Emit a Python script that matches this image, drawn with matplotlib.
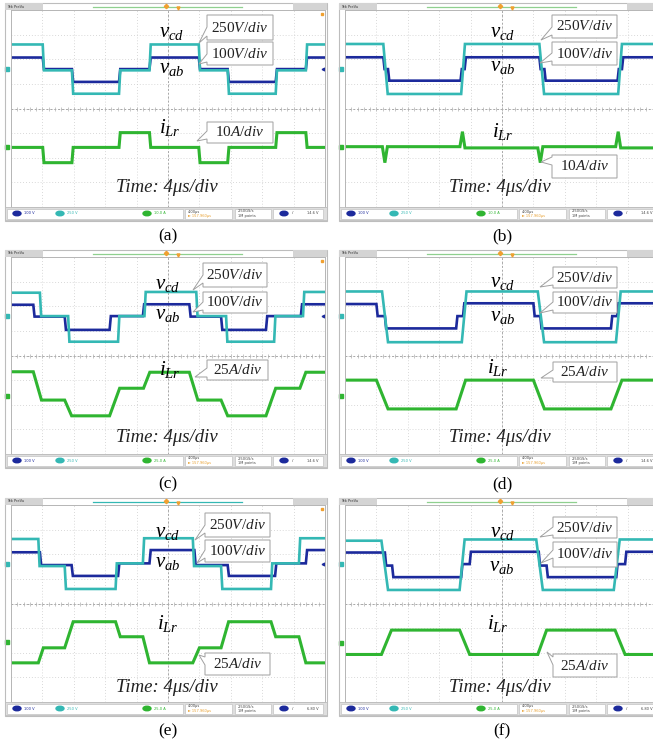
import matplotlib
matplotlib.use("Agg")
import matplotlib.pyplot as plt
import numpy as np
from matplotlib.patches import Rectangle, Polygon, Ellipse

plt.rcParams["mathtext.fontset"] = "custom"
plt.rcParams["mathtext.rm"] = "Liberation Serif"
plt.rcParams["mathtext.it"] = "Liberation Serif:italic"
plt.rcParams["font.family"] = ["Liberation Serif", "DejaVu Sans"]

W, H = 653, 745
GW, GH = 314, 197          # scope grid size in pixels (10 x 8 div)

# ---- waveform data (time in div, level in div) ----
# (a)
A_V_EDGES = [1.01, 1.94, 3.44, 4.41, 5.98, 6.90, 8.43, 9.39]
A_CD = [2.6, 1.55, 0.6, 1.55, 2.6, 1.55, 0.6, 1.55, 2.6]
A_AB = [2.07, 1.6, 1.08, 1.6, 2.07, 1.6, 1.08, 1.6, 2.07]
A_LR = [-1.58, -2.2, -1.58, -0.98, -1.58, -2.2, -1.58, -0.98, -1.58]
# (b)
B_CD_EDGES = [1.22, 3.70, 6.19, 8.70]
B_CD_RISE = [0.14, 0.12, 0.15, 0.12]
B_CD = [2.62, 0.59, 2.62, 0.59, 2.62]
B_AB_EDGES = [1.22, 1.37, 3.68, 3.81, 6.19, 6.35, 8.68, 8.82]
B_AB = [2.08, 1.6, 1.13, 1.6, 2.08, 1.6, 1.13, 1.6, 2.08]
B_LR_EDGES = [1.19, 1.27, 3.66, 3.74, 6.14, 6.22, 8.62, 8.70]
B_LR = [-1.55, -2.2, -1.55, -0.94, -1.6, -2.2, -1.55, -0.94, -1.6]
# (c)
C_CD_EDGES = [0.92, 1.82, 3.41, 4.25, 5.90, 6.85, 8.38, 9.30]
C_CD = [2.55, 1.6, 0.56, 1.6, 2.58, 1.6, 0.56, 1.6, 2.58]
C_AB_EDGES = [0.71, 1.71, 3.14, 4.20, 5.68, 6.69, 8.12, 9.23]
C_AB = [2.06, 1.58, 1.04, 1.6, 2.08, 1.58, 1.04, 1.6, 2.08]
C_LR_EDGES = [0.71, 1.71, 3.14, 4.22, 5.68, 6.69, 8.12, 9.20]
C_LR_RISE = [0.26, 0.22, 0.32, 0.2, 0.27, 0.21, 0.31, 0.19]
C_LR = [-0.66, -1.81, -2.45, -1.33, -0.68, -1.81, -2.45, -1.33, -0.68]
# (d)
D_CD_EDGES = [1.18, 3.72, 6.14, 8.63]
D_CD_RISE = [0.19, 0.15, 0.2, 0.15]
D_CD = [2.6, 0.54, 2.6, 0.54, 2.6]
D_AB_EDGES = [1.0, 1.27, 3.54, 3.76, 6.0, 6.22, 8.47, 8.67]
D_AB = [2.09, 1.6, 1.1, 1.6, 2.12, 1.6, 1.1, 1.6, 2.12]
D_LR_EDGES = [1.0, 3.54, 6.0, 8.47]
D_LR_RISE = [0.37, 0.3, 0.35, 0.35]
D_LR = [-1.0, -2.17, -1.0, -2.17, -1.0]
# (e)
E_CD_EDGES = [0.87, 1.71, 3.33, 4.2, 5.79, 6.69, 8.28, 9.17]
E_CD = [2.62, 1.52, 0.59, 1.63, 2.65, 1.52, 0.59, 1.63, 2.65]
E_AB_EDGES = [0.92, 1.93, 3.41, 4.41, 5.84, 6.90, 8.41, 9.39]
E_AB = [2.08, 1.56, 1.12, 1.63, 2.17, 1.56, 1.12, 1.63, 2.17]
E_LR_EDGES = [0.87, 1.71, 3.33, 4.20, 5.79, 6.69, 8.28, 9.17]
E_LR_RISE = [0.16, 0.27, 0.15, 0.21, 0.21, 0.24, 0.15, 0.22]
E_LR = [-2.41, -1.8, -0.74, -1.35, -2.41, -1.8, -0.74, -1.35, -2.41]
# (f)
F_CD_EDGES = [1.16, 3.65, 6.09, 8.56]
F_CD_RISE = [0.21, 0.16, 0.21, 0.19]
F_CD = [2.55, 0.55, 2.6, 0.55, 2.6]
F_AB_EDGES = [1.27, 1.50, 3.70, 3.97, 6.17, 6.42, 8.64, 8.92]
F_AB = [2.07, 1.54, 1.07, 1.6, 2.1, 1.54, 1.07, 1.6, 2.1]
F_LR_EDGES = [1.16, 3.65, 6.14, 8.60]
F_LR_RISE = [0.32, 0.32, 0.28, 0.32]
F_LR = [-2.07, -1.08, -2.07, -1.08, -2.07]

CAPTIONS = ["(a)", "(b)", "(c)", "(d)", "(e)", "(f)"]
I_SCALES = ["10A/div", "10A/div", "25A/div", "25A/div", "25A/div", "25A/div"]
I_READOUT = ["10.0 A", "10.0 A", "25.0 A", "25.0 A", "25.0 A", "25.0 A"]
TRIG_READOUT = ["14.6 V", "14.6 V", "14.6 V", "14.6 V", "6.80 V", "6.80 V"]
I_ZERO = [-1.58, -1.55, -1.65, -1.65, -1.57, -1.6]

CYAN = "#34b8b4"
BLUE = "#1c2a9c"
GREEN = "#2fb531"
GRID = "#cccccc"


def steps(edges, levels, rise=0.04):
    rises = rise if isinstance(rise, list) else [rise] * len(edges)
    t, y = [0.0], [levels[0]]
    for e, r, a, b in zip(edges, rises, levels[:-1], levels[1:]):
        t += [e, e + r]
        y += [a, b]
    t.append(10.0)
    y.append(levels[-1])
    return t, y


TRACES = [
    (steps(A_V_EDGES, A_CD), steps(A_V_EDGES, A_AB), steps(A_V_EDGES, A_LR)),
    (steps(B_CD_EDGES, B_CD, B_CD_RISE), steps(B_AB_EDGES, B_AB),
     steps(B_LR_EDGES, B_LR, 0.08)),
    (steps(C_CD_EDGES, C_CD), steps(C_AB_EDGES, C_AB),
     steps(C_LR_EDGES, C_LR, C_LR_RISE)),
    (steps(D_CD_EDGES, D_CD, D_CD_RISE), steps(D_AB_EDGES, D_AB),
     steps(D_LR_EDGES, D_LR, D_LR_RISE)),
    (steps(E_CD_EDGES, E_CD), steps(E_AB_EDGES, E_AB),
     steps(E_LR_EDGES, E_LR, E_LR_RISE)),
    (steps(F_CD_EDGES, F_CD, F_CD_RISE), steps(F_AB_EDGES, F_AB),
     steps(F_LR_EDGES, F_LR, F_LR_RISE)),
]

# ---- layout (pixels) ----
ORIGINS = [(11, 10), (345, 10), (11, 257), (345, 257), (11, 505), (345, 505)]
CAPTION_Y = [236, 236, 484, 484, 731, 731]
LABELS = [  # v_cd, v_ab, i_Lr, time text centres
    [(172, 33), (172, 68), (170, 128), (167, 188)],
    [(503, 32), (503, 67), (503, 132), (500, 188)],
    [(168, 285), (168, 315), (170, 370), (167, 438)],
    [(503, 283), (503, 317), (498, 368), (500, 438)],
    [(168, 533), (168, 563), (168, 623), (167, 687)],
    [(503, 533), (502, 567), (498, 623), (500, 688)],
]
CALLOUTS = [  # box (x0, y0, x1, y1), tail attach (ya, yb), tail tip
    [((207, 15, 273, 40), (27, 36), (199, 43)),
     ((207, 42, 273, 65), (54, 62), (199, 64)),
     ((207, 122, 273, 143), (131, 139), (197, 141))],
    [((552, 15, 617, 38), (27, 35), (541, 40)),
     ((552, 42, 617, 65), (53, 61), (540, 63)),
     ((552, 155, 617, 178), (157, 165), (541, 162))],
    [((203, 263, 267, 287), (275, 283), (193, 290)),
     ((203, 292, 267, 313), (302, 310), (193, 312)),
     ((207, 360, 268, 380), (368, 377), (195, 377))],
    [((553, 267, 617, 288), (277, 285), (540, 287)),
     ((553, 292, 617, 313), (302, 310), (540, 313)),
     ((553, 362, 617, 382), (370, 378), (541, 378))],
    [((205, 513, 270, 537), (525, 533), (195, 540)),
     ((205, 540, 270, 562), (550, 558), (197, 563)),
     ((205, 653, 270, 675), (657, 665), (199, 655))],
    [((553, 517, 617, 538), (527, 535), (540, 537)),
     ((553, 542, 617, 567), (550, 558), (541, 563)),
     ((553, 654, 617, 677), (657, 665), (547, 652))],
]


def frac(x, y, w, h):
    return [x / W, 1 - (y + h) / H, w / W, h / H]


fig = plt.figure(figsize=(6.53, 7.45), dpi=100)
over = fig.add_axes([0, 0, 1, 1], zorder=10)
over.set_xlim(0, W)
over.set_ylim(H, 0)
over.axis("off")
over.patch.set_alpha(0)

for k, (L, T) in enumerate(ORIGINS):
    # screen frame, header and status bar
    over.add_patch(Rectangle((L - 6, T - 7), GW + 8, GH + 21, fc="none",
                             ec="#bdbdbd", lw=0.8))
    over.add_patch(Rectangle((L - 6, T - 7), 38, 7, fc="#d4d4d4", lw=0))
    over.add_patch(Rectangle((L + 282, T - 7), 34, 7, fc="#d4d4d4", lw=0))
    over.text(L - 4, T - 3.5, "Tek PreVu", fontsize=2.6, va="center",
              family="DejaVu Sans", color="#333333")
    over.plot([L + 82, L + 231], [T - 3.5, T - 3.5],
              color=CYAN if k == 4 else "#8fd08f", lw=0.9)
    over.plot([L + 155], [T - 4], marker="D", ms=2.2, color="#f0a030")
    over.plot([L + 167], [T - 2], marker="v", ms=2.2, color="#f0a030")
    over.add_patch(Rectangle((L - 6, T + GH), GW + 8, 13, fc="#dedede",
                             ec="#bdbdbd", lw=0.6))
    for bx, bw in [(-4, 176), (174, 47), (224, 36), (262, 50)]:
        over.add_patch(Rectangle((L + bx, T + GH + 1.5), bw, 10, fc="white",
                                 ec="#c4c4c4", lw=0.5))
    for cx, col, txt in [(6, BLUE, "100 V"), (49, CYAN, "250 V"),
                         (136, GREEN, I_READOUT[k])]:
        over.add_patch(Ellipse((L + cx, T + GH + 6.5), 8, 4.5, color=col))
        over.text(L + cx + 7, T + GH + 6.5, txt, fontsize=2.6, color=col,
                  va="center", family="DejaVu Sans")
    over.text(L + 177, T + GH + 4.5, "4.00µs", fontsize=2.6, va="center",
              family="DejaVu Sans", color="#444444")
    over.text(L + 177, T + GH + 9, "► 157.960µs", fontsize=2.6, va="center",
              family="DejaVu Sans", color="#e8a030")
    over.text(L + 227, T + GH + 4.5, "2.50GS/s", fontsize=2.6, va="center",
              family="DejaVu Sans", color="#444444")
    over.text(L + 227, T + GH + 9, "1M points", fontsize=2.6, va="center",
              family="DejaVu Sans", color="#444444")
    over.add_patch(Ellipse((L + 273, T + GH + 6.5), 8, 4.5, color=BLUE))
    over.text(L + 281, T + GH + 6.5, "/", fontsize=3, va="center",
              family="DejaVu Sans", color="#444444")
    over.text(L + 296, T + GH + 6.5, TRIG_READOUT[k], fontsize=2.6,
              va="center", family="DejaVu Sans", color="#444444")

    # scope grid with traces
    ax = fig.add_axes(frac(L, T, GW, GH))
    ax.set_xlim(0, 10)
    ax.set_ylim(-4, 4)
    ax.set_xticks([])
    ax.set_yticks([])
    for s in ax.spines.values():
        s.set_color("#b5b5b5")
        s.set_linewidth(0.7)
    for gx in range(1, 10):
        ax.axvline(gx, color=GRID, lw=0.6, ls=(0, (1, 2.5)), zorder=0)
    for gy in range(-3, 4):
        ax.axhline(gy, color=GRID, lw=0.6, ls=(0, (1, 2.5)), zorder=0)
    ax.axhline(0, color="#a8a8a8", lw=0.7, ls=(0, (2, 2)), zorder=0)
    ax.axvline(5, color="#a8a8a8", lw=0.7, ls=(0, (2, 2)), zorder=0)
    tk = np.arange(0.2, 10, 0.2)
    ax.plot(tk, np.zeros_like(tk), "|", ms=2.5, color="#b0b0b0", mew=0.5)

    (tc, yc), (tb, yb), (tl, yl) = TRACES[k]
    ax.plot(tb, yb, color=BLUE, lw=1.9, solid_joinstyle="miter")
    ax.plot(tc, yc, color=CYAN, lw=1.9, solid_joinstyle="miter")
    ax.plot(tl, yl, color=GREEN, lw=2.2, solid_joinstyle="miter")
    ax.plot([-0.12], [1.6], "s", ms=2.5, color=CYAN, clip_on=False)
    ax.plot([-0.12], [I_ZERO[k]], "s", ms=2.5, color=GREEN, clip_on=False)
    ax.plot([9.93], [1.6], "<", ms=2, color=BLUE)
    ax.plot([9.9], [3.85], "s", ms=2, color="#f0a030")

    # annotations
    (vcd, vab, ilr, tm) = LABELS[k]
    over.text(*vcd, r"$v_{cd}$", fontsize=15, ha="center", va="center")
    over.text(*vab, r"$v_{ab}$", fontsize=15, ha="center", va="center")
    over.text(*ilr, r"$i_{Lr}$", fontsize=15, ha="center", va="center")
    over.text(*tm, "Time: 4μs/div", fontsize=13.5, style="italic",
              ha="center", va="center", color="#222222")
    texts = ["250V/div", "100V/div", I_SCALES[k]]
    for ((x0, y0, x1, y1), (ya, yb2), tip), txt in zip(CALLOUTS[k], texts):
        poly = [(x0, y0), (x1, y0), (x1, y1), (x0, y1), (x0, yb2), tip,
                (x0, ya)]
        over.add_patch(Polygon(poly, closed=True, fc="white", ec="#a0a0a0",
                               lw=0.7))
        num, unit = txt.split("V") if "V" in txt else txt.split("A")
        u = "V" if "V" in txt else "A"
        over.text((x0 + x1) / 2, (y0 + y1) / 2,
                  num + r"$\mathit{" + u + unit + "}$",
                  fontsize=11, ha="center", va="center", color="#222222")

    over.text(L + 157, CAPTION_Y[k], CAPTIONS[k], fontsize=12.5,
              ha="center", va="center")

fig.savefig("out.png", dpi=100)
